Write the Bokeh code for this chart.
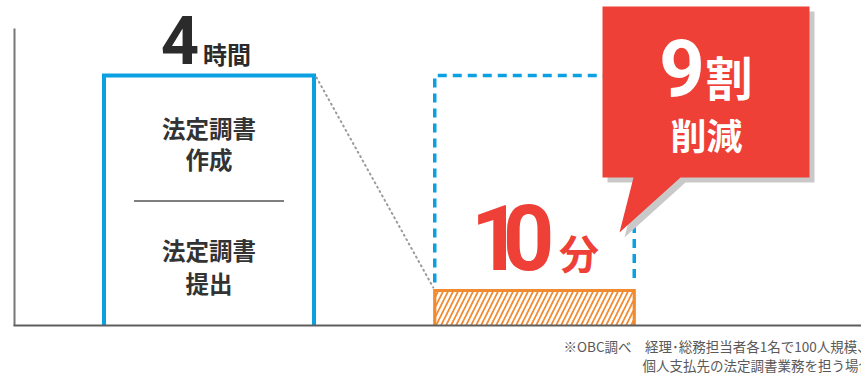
from bokeh.plotting import figure
from bokeh.models import Range1d
from bokeh.core.properties import value
from bokeh.embed import file_html
from bokeh.resources import INLINE

# ---------------- data ----------------
bar_names = ["従来", "導入後"]
bar_minutes = [240, 10]            # 4時間 / 10分
bar_heights = [250, 35]            # drawn height above baseline (chart is not to scale)
ghost_height = 250                 # dotted outline of the former duration
value_numbers = ["4", "10"]
value_units = ["時間", "分"]
task_lines = ["法定調書", "作成", "法定調書", "提出"]
reduction_number = "9"
reduction_unit = "割"
reduction_word = "削減"
footnotes = ["※OBC調べ　経理･総務担当者各1名で100人規模、",
             "個人支払先の法定調書業務を担う場合"]

# ---------------- layout ----------------
W, H = 861, 379
TOP = 325                      # baseline sits 325 px below the top
def Y(px):                     # page pixel row -> data y
    return TOP - px

BLUE = "#0AA0E2"
ORANGE = "#F28A30"
RED = "#EE4037"
DARK = "#2B2B2B"
JP = value("Noto Sans CJK JP")
NUM = value("Roboto")

centers = [208.5, 534.0]
widths = [210.0, 199.5]
lefts = [c - w / 2 for c, w in zip(centers, widths)]
rights = [c + w / 2 for c, w in zip(centers, widths)]

p = figure(width=W, height=H, output_backend="svg", toolbar_location=None,
           x_range=Range1d(0, W), y_range=Range1d(TOP - H, TOP),
           x_axis_location=None, y_axis_location=None, min_border=0)
p.outline_line_color = None
p.xgrid.visible = False
p.ygrid.visible = False
p.background_fill_color = "white"
p.border_fill_color = "white"

# --- after bar: hatched fill + open outline
p.quad(left=[lefts[1]], right=[rights[1]], bottom=[0], top=[bar_heights[1]],
       fill_color="white", line_color=None,
       hatch_pattern="/", hatch_color=ORANGE, hatch_scale=10, hatch_weight=1.7)
p.line([lefts[1], lefts[1], rights[1], rights[1]],
       [0, bar_heights[1], bar_heights[1], 0],
       line_color=ORANGE, line_width=3.2, line_join="miter")

# --- ghost outline of former duration (dashed)
gb = bar_heights[1] + 8
p.line([lefts[1], lefts[1], rights[1], rights[1]],
       [gb, ghost_height, ghost_height, gb],
       line_color=BLUE, line_width=3.5, line_dash="9 6", line_join="miter")

# --- before bar: open outline
p.line([lefts[0], lefts[0], rights[0], rights[0]],
       [0, bar_heights[0], bar_heights[0], 0],
       line_color=BLUE, line_width=4, line_join="miter")

# --- dotted connector
p.line([rights[0] + 2.5, lefts[1] - 1.5],
       [bar_heights[0] - 2, bar_heights[1] + 3],
       line_color="#9A9A9A", line_width=2, line_dash="1 4", line_cap="round")

# --- divider within the before bar
p.line([centers[0] - 75, centers[0] + 75], [Y(200.5), Y(200.5)],
       line_color="#555555", line_width=1.3)

# --- task labels
p.text(x=[centers[0]] * 4, y=[Y(127.5), Y(158), Y(249), Y(282)], text=task_lines,
       text_font=JP, text_font_style="bold", text_font_size="23.5px",
       text_color="#333333", text_align="center", text_baseline="middle")

# --- value label: 4時間
p.text(x=[centers[0] - 29], y=[Y(39)], text=[value_numbers[0]],
       text_font=NUM, text_font_style="bold", text_font_size="67px",
       text_color=DARK, text_align="center", text_baseline="middle")
p.text(x=[centers[0] + 18], y=[Y(52.5)], text=[value_units[0]],
       text_font=JP, text_font_style="bold", text_font_size="24px",
       text_color=DARK, text_align="center", text_baseline="middle")

# --- value label: 10分
digits = list(value_numbers[1])
p.text(x=[centers[1] - 38, centers[1] - 6], y=[Y(236.5)] * 2, text=digits,
       text_font=NUM, text_font_style="bold", text_font_size="90px",
       text_color=RED, text_align="center", text_baseline="middle")
p.text(x=[centers[1] + 44.5], y=[Y(251)], text=[value_units[1]],
       text_font=JP, text_font_style="bold", text_font_size="40px",
       text_color=RED, text_align="center", text_baseline="middle")

# --- callout balloon with shadow
bx = [602, 809, 809, 680, 619, 633, 602]
by = [6, 6, 177, 177, 232, 177, 177]
p.patch([x + 5 for x in bx], [Y(y + 5) for y in by],
        fill_color="#C9C9C9", line_color=None)
p.patch(bx, [Y(y) for y in by], fill_color=RED, line_color=None)

p.text(x=[681.5], y=[Y(66.5)], text=[reduction_number],
       text_font=NUM, text_font_style="bold", text_font_size="80px",
       text_color="white", text_align="center", text_baseline="middle")
p.text(x=[728.5], y=[Y(74.5)], text=[reduction_unit],
       text_font=JP, text_font_style="bold", text_font_size="47px",
       text_color="white", text_align="center", text_baseline="middle")
p.text(x=[706], y=[Y(133.5)], text=[reduction_word],
       text_font=JP, text_font_style="bold", text_font_size="36px",
       text_color="white", text_align="center", text_baseline="middle")

# --- axes lines
p.line([14, 14], [0, Y(28)], line_color="#777777", line_width=2)
p.line([13, W], [0, 0], line_color="#5E5E5E", line_width=2)

# --- footnote
p.text(x=[563, 642], y=[Y(345), Y(364)], text=footnotes,
       text_font=JP, text_font_size="13.5px", text_color="#595959",
       text_align="left", text_baseline="middle")

open("out.html", "w").write(file_html(p, INLINE))
